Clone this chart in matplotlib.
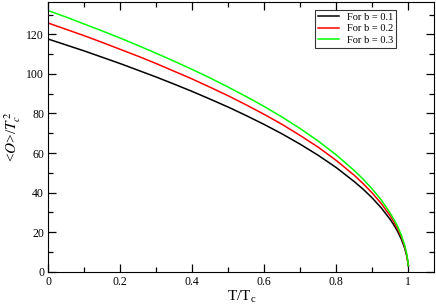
import matplotlib
matplotlib.use("Agg")
import matplotlib.pyplot as plt
from matplotlib.ticker import MultipleLocator

# values
T = [0.0, 0.05, 0.1, 0.15, 0.2, 0.25, 0.3, 0.35, 0.4, 0.45, 0.5, 0.55, 0.6, 0.65, 0.7,
     0.75, 0.8, 0.85, 0.875, 0.9, 0.925, 0.95, 0.96, 0.97, 0.98, 0.99, 0.995, 0.998, 1.0]
O_b01 = [117.6, 114.6, 111.6, 108.4, 105.2, 101.8, 98.4, 94.8, 91.1, 87.2, 83.2, 78.9, 74.4, 69.6, 64.4,
         58.8, 52.6, 45.5, 41.6, 37.2, 32.2, 26.3, 23.5, 20.4, 16.6, 11.8, 8.3, 5.3, 3.0]
O_b02 = [125.7, 122.5, 119.3, 115.9, 112.4, 108.9, 105.2, 101.3, 97.4, 93.2, 88.9, 84.3, 79.5, 74.4, 68.8,
         62.9, 56.2, 48.7, 44.4, 39.7, 34.4, 28.1, 25.1, 21.8, 17.8, 12.6, 8.9, 5.6, 3.0]
O_b03 = [132.0, 128.7, 125.2, 121.7, 118.1, 114.3, 110.4, 106.4, 102.2, 97.9, 93.3, 88.5, 83.5, 78.1, 72.3,
         66.0, 59.0, 51.1, 46.7, 41.7, 36.2, 29.5, 26.4, 22.9, 18.7, 13.2, 9.3, 5.9, 3.0]
labels = ["For b = 0.1", "For b = 0.2", "For b = 0.3"]
colors = ["black", "red", "#00ff00"]

plt.rcParams['font.family'] = ['Liberation Serif', 'DejaVu Serif']
plt.rcParams['mathtext.fontset'] = 'stix'

fig = plt.figure(figsize=(4.36, 3.06), dpi=100)
ax = fig.add_axes([0.1108, 0.1121, 0.8853, 0.8823])

for y, lab, c in zip([O_b01, O_b02, O_b03], labels, colors):
    ax.plot(T, y, color=c, lw=1.1, label=lab)

ax.set_xlim(0, 1.072)
ax.set_ylim(0, 136.5)
ax.xaxis.set_major_locator(MultipleLocator(0.2))
ax.xaxis.set_minor_locator(MultipleLocator(0.1))
ax.yaxis.set_major_locator(MultipleLocator(20))
ax.yaxis.set_minor_locator(MultipleLocator(10))
ax.tick_params(which='both', direction='in', top=True, right=True, labelsize=8.5, pad=3)
ax.tick_params(which='major', length=6, width=0.9)
ax.tick_params(which='minor', length=3.5, width=0.9)
ax.xaxis.set_major_formatter(plt.FuncFormatter(lambda v, p: '%g' % round(v, 2)))

ax.set_xlabel(r'T/T$_\mathregular{c}$', fontsize=11, labelpad=1)
ax.set_ylabel(r'<$O$>/$T_c^{\,2}$', fontsize=11, labelpad=2)

leg = ax.legend(loc='upper right', bbox_to_anchor=(0.915, 0.99), fontsize=7.5,
                frameon=True, fancybox=False, handlelength=2.0, handletextpad=0.8,
                borderpad=0.3, labelspacing=0.2)
leg.get_frame().set_edgecolor('black')
leg.get_frame().set_linewidth(0.8)

fig.savefig("out.png", dpi=100)
